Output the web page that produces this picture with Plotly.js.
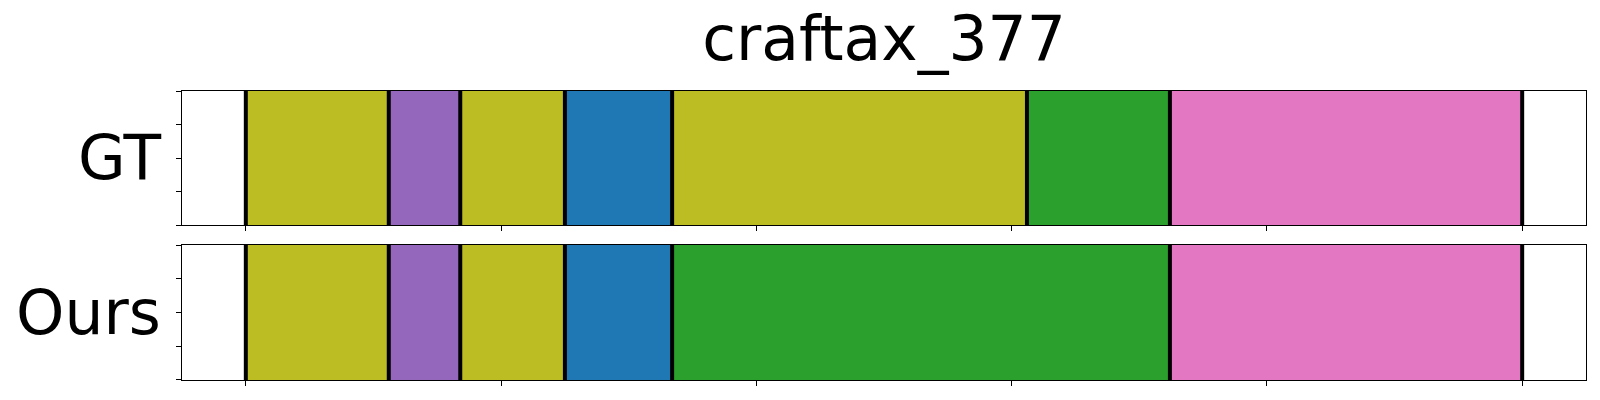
<!DOCTYPE html>
<html>
<head>
<meta charset="utf-8">
<script src="https://cdn.plot.ly/plotly-3.0.1.min.js"></script>
<style>html,body{margin:0;padding:0;background:#fff;}#chart{width:1600px;height:400px;}</style>
</head>
<body>
<div id="chart"></div>
<script>
// Segment boundaries (frame index) and segment colours per row
const chartTitle = "craftax_377";
const rowLabels = ["GT", "Ours"];
const gtBounds = [0, 28, 42, 62.5, 83.5, 153, 181, 250];
const gtColors = ["#bcbd22", "#9467bd", "#bcbd22", "#1f77b4", "#bcbd22", "#2ca02c", "#e377c2"];
const oursBounds = [0, 28, 42, 62.5, 83.5, 181, 250];
const oursColors = ["#bcbd22", "#9467bd", "#bcbd22", "#1f77b4", "#2ca02c", "#e377c2"];
const xTicks = [0, 50, 100, 150, 200, 250];
const xRange = [-12.5, 262.5];

function rowTraces(bounds, colors, xa, ya) {
  const traces = [];
  for (let i = 0; i < colors.length; i++) {
    traces.push({
      type: "bar", orientation: "h",
      y: [0.5], base: [bounds[i]], x: [bounds[i + 1] - bounds[i]],
      width: [1],
      marker: {color: colors[i], line: {width: 0}},
      xaxis: xa, yaxis: ya, hoverinfo: "skip", showlegend: false
    });
  }
  for (const b of bounds) {
    traces.push({
      type: "scatter", mode: "lines",
      x: [b, b], y: [0, 1],
      line: {color: "#000", width: 4},
      xaxis: xa, yaxis: ya, hoverinfo: "skip", showlegend: false
    });
  }
  return traces;
}

const data = [].concat(
  rowTraces(gtBounds, gtColors, "x", "y"),
  rowTraces(oursBounds, oursColors, "x2", "y2")
);

const xBase = {
  range: xRange, tickvals: xTicks, showticklabels: false,
  ticks: "outside", ticklen: 5, tickwidth: 1, tickcolor: "#000",
  showline: true, linecolor: "#000", linewidth: 1.3, mirror: true,
  showgrid: false, zeroline: false, fixedrange: true
};
const yBase = {
  range: [0, 1], tickvals: [0, 0.25, 0.5, 0.75, 1], showticklabels: false,
  ticks: "outside", ticklen: 5, tickwidth: 1, tickcolor: "#000",
  showline: true, linecolor: "#000", linewidth: 1.3, mirror: true,
  showgrid: false, zeroline: false, fixedrange: true
};

const bigFont = {family: "DejaVu Sans", size: 61.5, color: "#000"};

const layout = {
  width: 1600, height: 400,
  margin: {l: 182, r: 14, t: 91, b: 20},
  paper_bgcolor: "#fff", plot_bgcolor: "#fff",
  barmode: "overlay",
  font: {family: "DejaVu Sans", color: "#000"},
  title: {
    text: chartTitle,
    font: bigFont,
    xref: "paper", x: 0.5, xanchor: "center",
    yref: "container", y: 0.905, yanchor: "middle"
  },
  xaxis: Object.assign({}, xBase, {anchor: "y", domain: [0, 1]}),
  yaxis: Object.assign({}, yBase, {anchor: "x", domain: [0.5363, 1]}),
  xaxis2: Object.assign({}, xBase, {anchor: "y2", domain: [0, 1], matches: "x"}),
  yaxis2: Object.assign({}, yBase, {anchor: "x2", domain: [0, 0.4671]}),
  annotations: [
    {text: rowLabels[0], xref: "paper", yref: "y domain", x: 0, y: 0.5,
     xanchor: "right", yanchor: "middle", xshift: -19, showarrow: false,
     font: bigFont},
    {text: rowLabels[1], xref: "paper", yref: "y2 domain", x: 0, y: 0.5,
     xanchor: "right", yanchor: "middle", xshift: -19, showarrow: false,
     font: bigFont}
  ]
};

Plotly.newPlot("chart", data, layout, {staticPlot: true, displayModeBar: false});
</script>
</body>
</html>
